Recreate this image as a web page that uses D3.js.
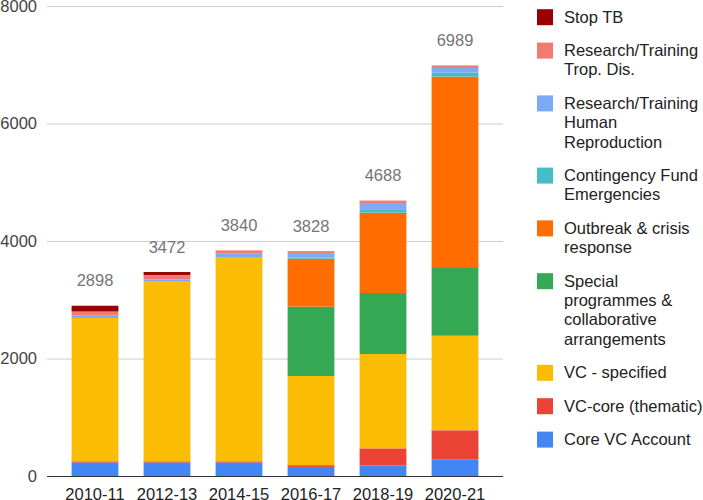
<!DOCTYPE html>
<html>
<head>
<meta charset="utf-8">
<script src="https://cdn.jsdelivr.net/npm/d3@7"></script>
<style>
  body { margin: 0; background: #fff; }
  text { font-family: Arial, "Liberation Sans", sans-serif; }
</style>
</head>
<body>
<svg width="703" height="500"></svg>
<script>
// periods on the x axis
var periods = ["2010-11", "2012-13", "2014-15", "2016-17", "2018-19", "2020-21"];

// series, bottom of the stack first
var seriesNames = [
    "Core VC Account",
    "VC-core (thematic)",
    "VC - specified",
    "Special programmes & collaborative arrangements",
    "Outbreak & crisis response",
    "Contingency Fund Emergencies",
    "Research/Training Human Reproduction",
    "Research/Training Trop. Dis.",
    "Stop TB"
];
var seriesColors = ["#4285f4", "#ea4335", "#fbbc04", "#34a853", "#ff6d01", "#46bdc6", "#7baaf7", "#f07b72", "#990000"];

// values per series (one per period)
var coreVC       = [230, 230, 230, 155, 180, 284];
var vcCore       = [20, 20, 20, 30, 290, 494];
var vcSpecified  = [2440, 3057, 3460, 1517, 1607, 1610];
var specialProg  = [0, 0, 0, 1180, 1038, 1152];
var outbreak     = [0, 0, 0, 817, 1367, 3257];
var contingency  = [0, 0, 10, 17, 60, 68];
var researchHRP  = [45, 40, 65, 65, 105, 80];
var researchTDR  = [65, 75, 55, 47, 41, 44];
var stopTB       = [98, 50, 0, 0, 0, 0];

var yTicks = [0, 2000, 4000, 6000, 8000];

var allSeries = [coreVC, vcCore, vcSpecified, specialProg, outbreak, contingency, researchHRP, researchTDR, stopTB];

var rows = periods.map(function (p, i) {
    var r = { period: p };
    seriesNames.forEach(function (s, k) { r[s] = allSeries[k][i]; });
    return r;
});

var svg = d3.select("svg");

var x = d3.scaleBand()
    .domain(periods)
    .range([59, 491])
    .paddingInner(0.35)
    .paddingOuter(0.175);

var y = d3.scaleLinear()
    .domain([0, 8000])
    .range([476, 6]);

var stack = d3.stack().keys(seriesNames);
var layers = stack(rows);

// gridlines
svg.append("g")
    .selectAll("line")
    .data(yTicks.filter(function (d) { return d > 0; }))
    .enter().append("line")
    .attr("x1", 47)
    .attr("x2", 503)
    .attr("y1", function (d) { return y(d) + 0.5; })
    .attr("y2", function (d) { return y(d) + 0.5; })
    .attr("stroke", "#cccccc")
    .attr("stroke-width", 1);

// y labels
svg.append("g")
    .selectAll("text")
    .data(yTicks)
    .enter().append("text")
    .attr("x", 37)
    .attr("y", function (d) { return y(d); })
    .attr("dy", "0.36em")
    .attr("text-anchor", "end")
    .attr("font-size", "16.5px")
    .attr("fill", "#444")
    .text(function (d) { return d; });

// bars
svg.append("g")
    .selectAll("g")
    .data(layers)
    .enter().append("g")
    .attr("fill", function (d, i) { return seriesColors[i]; })
    .selectAll("rect")
    .data(function (d) { return d; })
    .enter().append("rect")
    .attr("x", function (d) { return x(d.data.period); })
    .attr("width", x.bandwidth())
    .attr("y", function (d) { return y(d[1]); })
    .attr("height", function (d) { return Math.max(0, y(d[0]) - y(d[1])); });

// baseline
svg.append("line")
    .attr("x1", 47)
    .attr("x2", 503)
    .attr("y1", y(0) + 0.5)
    .attr("y2", y(0) + 0.5)
    .attr("stroke", "#333")
    .attr("stroke-width", 1);

// totals above bars
svg.append("g")
    .selectAll("text")
    .data(rows)
    .enter().append("text")
    .attr("x", function (d) { return x(d.period) + x.bandwidth() / 2; })
    .attr("y", function (d) {
        var t = d3.sum(seriesNames, function (s) { return d[s]; });
        return y(t) - 19.5;
    })
    .attr("text-anchor", "middle")
    .attr("font-size", "16.5px")
    .attr("fill", "#757575")
    .text(function (d) { return d3.sum(seriesNames, function (s) { return d[s]; }); });

// x labels
svg.append("g")
    .selectAll("text")
    .data(periods)
    .enter().append("text")
    .attr("x", function (d) { return x(d) + x.bandwidth() / 2; })
    .attr("y", 499.5)
    .attr("text-anchor", "middle")
    .attr("font-size", "16.5px")
    .attr("fill", "#222")
    .text(function (d) { return d; });

// legend, top entry is last series
var legend = svg.append("g");
var lineH = 19.4;
var ly = 16.7;
var wrapW = 145;
seriesNames.slice().reverse().forEach(function (name, idx) {
    var color = seriesColors[seriesNames.length - 1 - idx];
    var g = legend.append("g");
    var txt = g.append("text")
        .attr("x", 564)
        .attr("font-size", "16.5px")
        .attr("fill", "#222");
    // wrap the label
    var words = name.split(" ");
    var lines = [];
    var cur = "";
    var probe = txt.append("tspan");
    words.forEach(function (w) {
        var test = cur ? cur + " " + w : w;
        probe.text(test);
        if (probe.node().getComputedTextLength() > wrapW && cur) {
            lines.push(cur);
            cur = w;
        } else {
            cur = test;
        }
    });
    lines.push(cur);
    probe.remove();
    lines.forEach(function (l, j) {
        txt.append("tspan")
            .attr("x", 564)
            .attr("y", ly + j * lineH)
            .attr("dy", "0.36em")
            .text(l);
    });
    g.append("rect")
        .attr("x", 537)
        .attr("y", ly - 7.5)
        .attr("width", 16)
        .attr("height", 16)
        .attr("fill", color);
    ly += lines.length * lineH + 14;
});
</script>
</body>
</html>
